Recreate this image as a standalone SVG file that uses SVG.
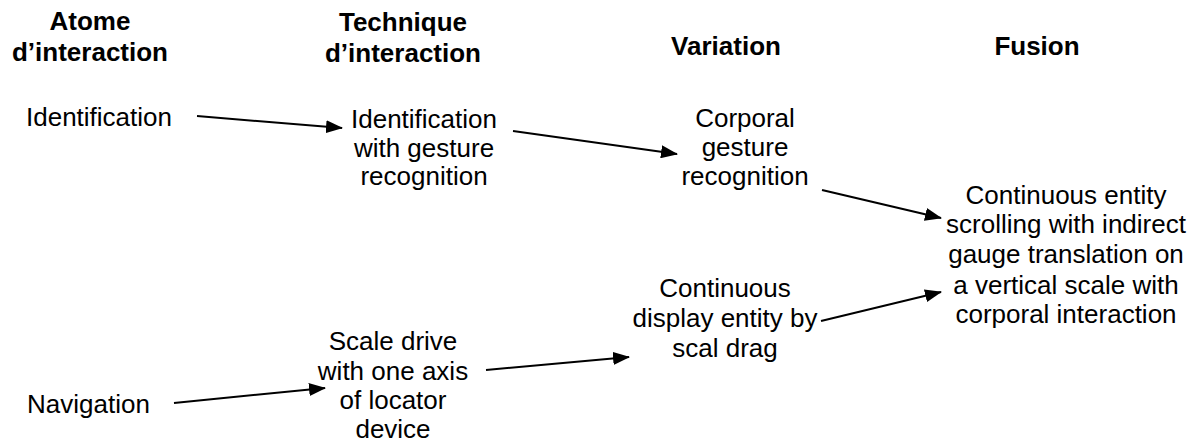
<svg xmlns="http://www.w3.org/2000/svg" width="1201" height="445" viewBox="0 0 1201 445">
<style>
text{font-family:"Liberation Sans",Arial,sans-serif;font-size:26px;fill:#000;}
.h{font-weight:bold;text-anchor:middle;}
.c{text-anchor:middle;}
.e{stroke:#000;stroke-width:2;fill:none;marker-end:url(#ah);}
</style>
<defs>
<marker id="ah" markerUnits="userSpaceOnUse" markerWidth="17" markerHeight="13" refX="16" refY="6.5" orient="auto">
<path d="M0,0 L17,6.5 L0,13 Z" fill="#000"/>
</marker>
</defs>
<rect width="1201" height="445" fill="#fff"/>
<g id="headers">
<g id="h-atome"><text class="h" x="90" y="30">Atome</text><text class="h" x="90" y="61">d’interaction</text></g>
<g id="h-technique"><text class="h" x="403" y="31">Technique</text><text class="h" x="403" y="62">d’interaction</text></g>
<g id="h-variation"><text class="h" x="726" y="55">Variation</text></g>
<g id="h-fusion"><text class="h" x="1037" y="55">Fusion</text></g>
</g>
<g id="n-identification"><text x="26" y="126">Identification</text></g>
<g id="n-navigation"><text x="27" y="413">Navigation</text></g>
<g id="n-ident-gesture"><text class="c" x="424" y="128">Identification</text><text class="c" x="424" y="157">with gesture</text><text class="c" x="424" y="185">recognition</text></g>
<g id="n-scale-drive"><text class="c" x="393" y="350">Scale drive</text><text class="c" x="393" y="380">with one axis</text><text class="c" x="393" y="409">of locator</text><text class="c" x="393" y="438">device</text></g>
<g id="n-corporal"><text class="c" x="745" y="127">Corporal</text><text class="c" x="745" y="156">gesture</text><text class="c" x="745" y="185">recognition</text></g>
<g id="n-continuous-display"><text class="c" x="725" y="297">Continuous</text><text class="c" x="725" y="327">display entity by</text><text class="c" x="725" y="357">scal drag</text></g>
<g id="n-fusion"><text class="c" x="1066" y="204">Continuous entity</text><text class="c" x="1066" y="233">scrolling with indirect</text><text class="c" x="1066" y="263">gauge translation on</text><text class="c" x="1066" y="294">a vertical scale with</text><text class="c" x="1066" y="323">corporal interaction</text></g>
<g id="connectors">
<line class="e" x1="197" y1="116" x2="342" y2="128"/>
<line class="e" x1="513" y1="131" x2="677" y2="154"/>
<line class="e" x1="822" y1="190" x2="941" y2="218"/>
<line class="e" x1="174" y1="403" x2="325" y2="388"/>
<line class="e" x1="486" y1="370" x2="629" y2="357"/>
<line class="e" x1="821" y1="321" x2="941" y2="292"/>
</g>
</svg>
